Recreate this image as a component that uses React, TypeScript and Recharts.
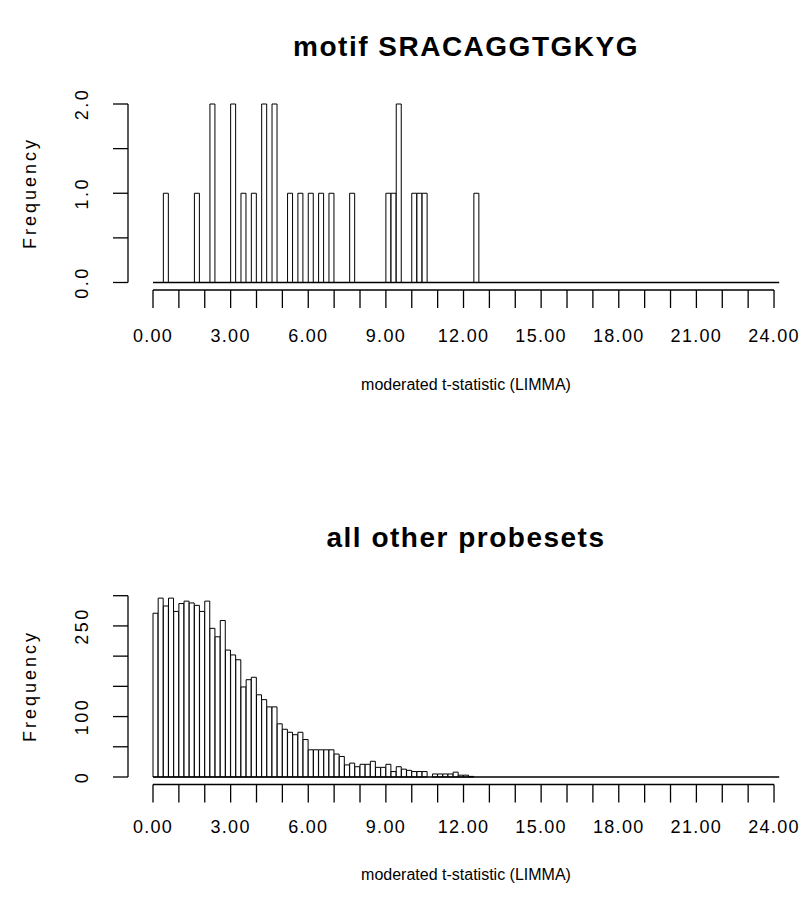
import React from "react";
import { BarChart, Bar, XAxis, YAxis, ReferenceLine } from "recharts";

// histogram breaks: 0.0 .. 24.2 in steps of 0.2
const binWidth = 0.2;
const binCount = 121;

// motif SRACAGGTGKYG – only the non-empty bins (bin start -> count)
const motifBinStarts = [0.4, 1.6, 2.2, 3.0, 3.4, 3.8, 4.2, 4.6, 5.2, 5.6, 6.0, 6.4, 6.8, 7.6, 9.0, 9.2, 9.4, 10.0, 10.2, 10.4, 12.4];
const motifCounts = [1, 1, 2, 2, 1, 1, 2, 2, 1, 1, 1, 1, 1, 1, 1, 1, 2, 1, 1, 1, 1];

// all other probesets – counts per bin starting at 0.0 (later bins are empty)
const otherCounts = [
  271, 296, 283, 296, 274, 287, 291, 288, 284, 274,
  291, 246, 232, 259, 210, 202, 194, 149, 161, 165,
  136, 128, 116, 116, 88, 79, 74, 70, 74, 62,
  45, 45, 45, 45, 45, 38, 34, 20, 23, 17,
  21, 21, 26, 16, 16, 21, 9, 17, 13, 11,
  9, 9, 9, 0, 5, 5, 5, 5, 8, 3,
  3, 1,
];

const xTicks = [0, 1, 2, 3, 4, 5, 6, 7, 8, 9, 10, 11, 12, 13, 14, 15, 16, 17, 18, 19, 20, 21, 22, 23, 24];
const xLabelled = [0, 3, 6, 9, 12, 15, 18, 21, 24];
const xRange = [0, 24];

const motifYTicks = [0, 0.5, 1, 1.5, 2];
const motifYLabelled = [0, 1, 2];
const otherYTicks = [0, 50, 100, 150, 200, 250, 300];
const otherYLabelled = [0, 100, 250];

const FONT = '"Liberation Sans", Arial, Helvetica, sans-serif';
const BIN_PX = 5.175; // one bin on screen, the axis stops one bin short of the last break
const AXIS_GAP = 7.5; // R draws the x axis a little below the bars

const bins = Array.from({ length: binCount }, (_, i) => (i * binWidth).toFixed(1));

const motifData = bins.map((b) => {
  const k = motifBinStarts.findIndex((s) => s.toFixed(1) === b);
  return { bin: b, x: Number(b), count: k >= 0 ? motifCounts[k] : 0 };
});

const otherData = bins.map((b, i) => ({ bin: b, x: Number(b), count: otherCounts[i] ?? 0 }));

const makeXTick = (dy: number) => (props: any) => {
  const { x, y, payload } = props;
  if (!xLabelled.includes(payload.value)) return <g />;
  return (
    <text x={x} y={y + dy} textAnchor="middle" fontSize={18} fontFamily={FONT} letterSpacing={1.3} fill="#000">
      {Number(payload.value).toFixed(2)}
    </text>
  );
};

const MotifXTick = makeXTick(33.5);
const OtherXTick = makeXTick(30);

const makeYTick = (labelled: number[], fmt: (v: number) => string) => (props: any) => {
  const { x, y, payload } = props;
  if (!labelled.includes(payload.value)) return <g />;
  const cx = x - 31;
  return (
    <text
      x={cx}
      y={y}
      dy="0.36em"
      transform={`rotate(-90, ${cx}, ${y})`}
      textAnchor="middle"
      fontSize={18}
      fontFamily={FONT}
      letterSpacing={2.5}
      fill="#000"
    >
      {fmt(payload.value)}
    </text>
  );
};

const MotifYTick = makeYTick(motifYLabelled, (v) => v.toFixed(1));
const OtherYTick = makeYTick(otherYLabelled, (v) => String(v));

const OffsetAxisLine = (props: any) => (
  <line
    x1={props.x1}
    y1={props.y1 + AXIS_GAP}
    x2={props.x2}
    y2={props.y2 + AXIS_GAP}
    stroke="#000"
    strokeWidth={1.3}
  />
);

function Histogram({ data, top, plotH, yDomain, yTicks, yTick, xTick }: any) {
  return (
    <BarChart
      width={808}
      height={460}
      data={data}
      margin={{ top, right: 28.8, bottom: 0, left: 0 }}
      barCategoryGap={0}
      barGap={0}
    >
      <XAxis
        xAxisId="a_bins"
        dataKey="bin"
        type="category"
        height={AXIS_GAP}
        tick={false}
        axisLine={false}
        tickLine={false}
      />
      <XAxis
        xAxisId="b_num"
        dataKey="x"
        type="number"
        domain={xRange}
        allowDataOverflow
        padding={{ left: 0, right: BIN_PX }}
        ticks={xTicks}
        interval={0}
        height={460 - top - plotH - AXIS_GAP}
        tickSize={18}
        tickMargin={0}
        axisLine={false}
        tickLine={{ stroke: "#000", strokeWidth: 1.3 }}
        tick={xTick}
      />
      <YAxis yAxisId="a_pad" width={25} domain={yDomain} tick={false} axisLine={false} tickLine={false} />
      <YAxis
        yAxisId="b_freq"
        width={128}
        domain={yDomain}
        ticks={yTicks}
        interval={0}
        tickSize={15}
        tickMargin={0}
        axisLine={{ stroke: "#000", strokeWidth: 1.3 }}
        tickLine={{ stroke: "#000", strokeWidth: 1.3 }}
        tick={yTick}
      />
      <ReferenceLine xAxisId="a_bins" yAxisId="b_freq" y={0} stroke="#000" strokeWidth={1.3} />
      <ReferenceLine
        xAxisId="b_num"
        yAxisId="b_freq"
        segment={[{ x: xRange[0], y: 0 }, { x: xRange[1], y: 0 }]}
        ifOverflow="visible"
        shape={<OffsetAxisLine />}
      />
      <Bar
        xAxisId="a_bins"
        yAxisId="b_freq"
        dataKey="count"
        fill="#fff"
        stroke="#000"
        strokeWidth={1}
        isAnimationActive={false}
      />
    </BarChart>
  );
}

const textBase: React.CSSProperties = {
  position: "absolute",
  fontFamily: FONT,
  color: "#000",
  whiteSpace: "nowrap",
  lineHeight: 1,
};

function Title({ text, y }: { text: string; y: number }) {
  return (
    <div style={{ ...textBase, left: 466, top: y, transform: "translate(-50%, -50%)", fontSize: 28, fontWeight: "bold", letterSpacing: 1.5 }}>
      {text}
    </div>
  );
}

function XLabel({ y }: { y: number }) {
  return (
    <div style={{ ...textBase, left: 466, top: y, transform: "translate(-50%, -50%)", fontSize: 16 }}>
      moderated t-statistic (LIMMA)
    </div>
  );
}

function YLabel({ y }: { y: number }) {
  return (
    <div style={{ ...textBase, left: 30, top: y, transform: "translate(-50%, -50%) rotate(-90deg)", fontSize: 18, letterSpacing: 3 }}>
      Frequency
    </div>
  );
}

export default function App() {
  return (
    <div style={{ position: "absolute", left: 0, top: 0, width: 808, height: 920, background: "#fff" }}>
      <div style={{ position: "absolute", left: 0, top: 0 }}>
        <Histogram data={motifData} top={104} plotH={178.5} yDomain={[0, 2]} yTicks={motifYTicks} yTick={<MotifYTick />} xTick={<MotifXTick />} />
      </div>
      <div style={{ position: "absolute", left: 0, top: 460 }}>
        <Histogram data={otherData} top={135.7} plotH={181.3} yDomain={[0, 300]} yTicks={otherYTicks} yTick={<OtherYTick />} xTick={<OtherXTick />} />
      </div>
      <Title text="motif SRACAGGTGKYG" y={47} />
      <Title text="all other probesets" y={538} />
      <XLabel y={385} />
      <XLabel y={875} />
      <YLabel y={193} />
      <YLabel y={686} />
    </div>
  );
}
